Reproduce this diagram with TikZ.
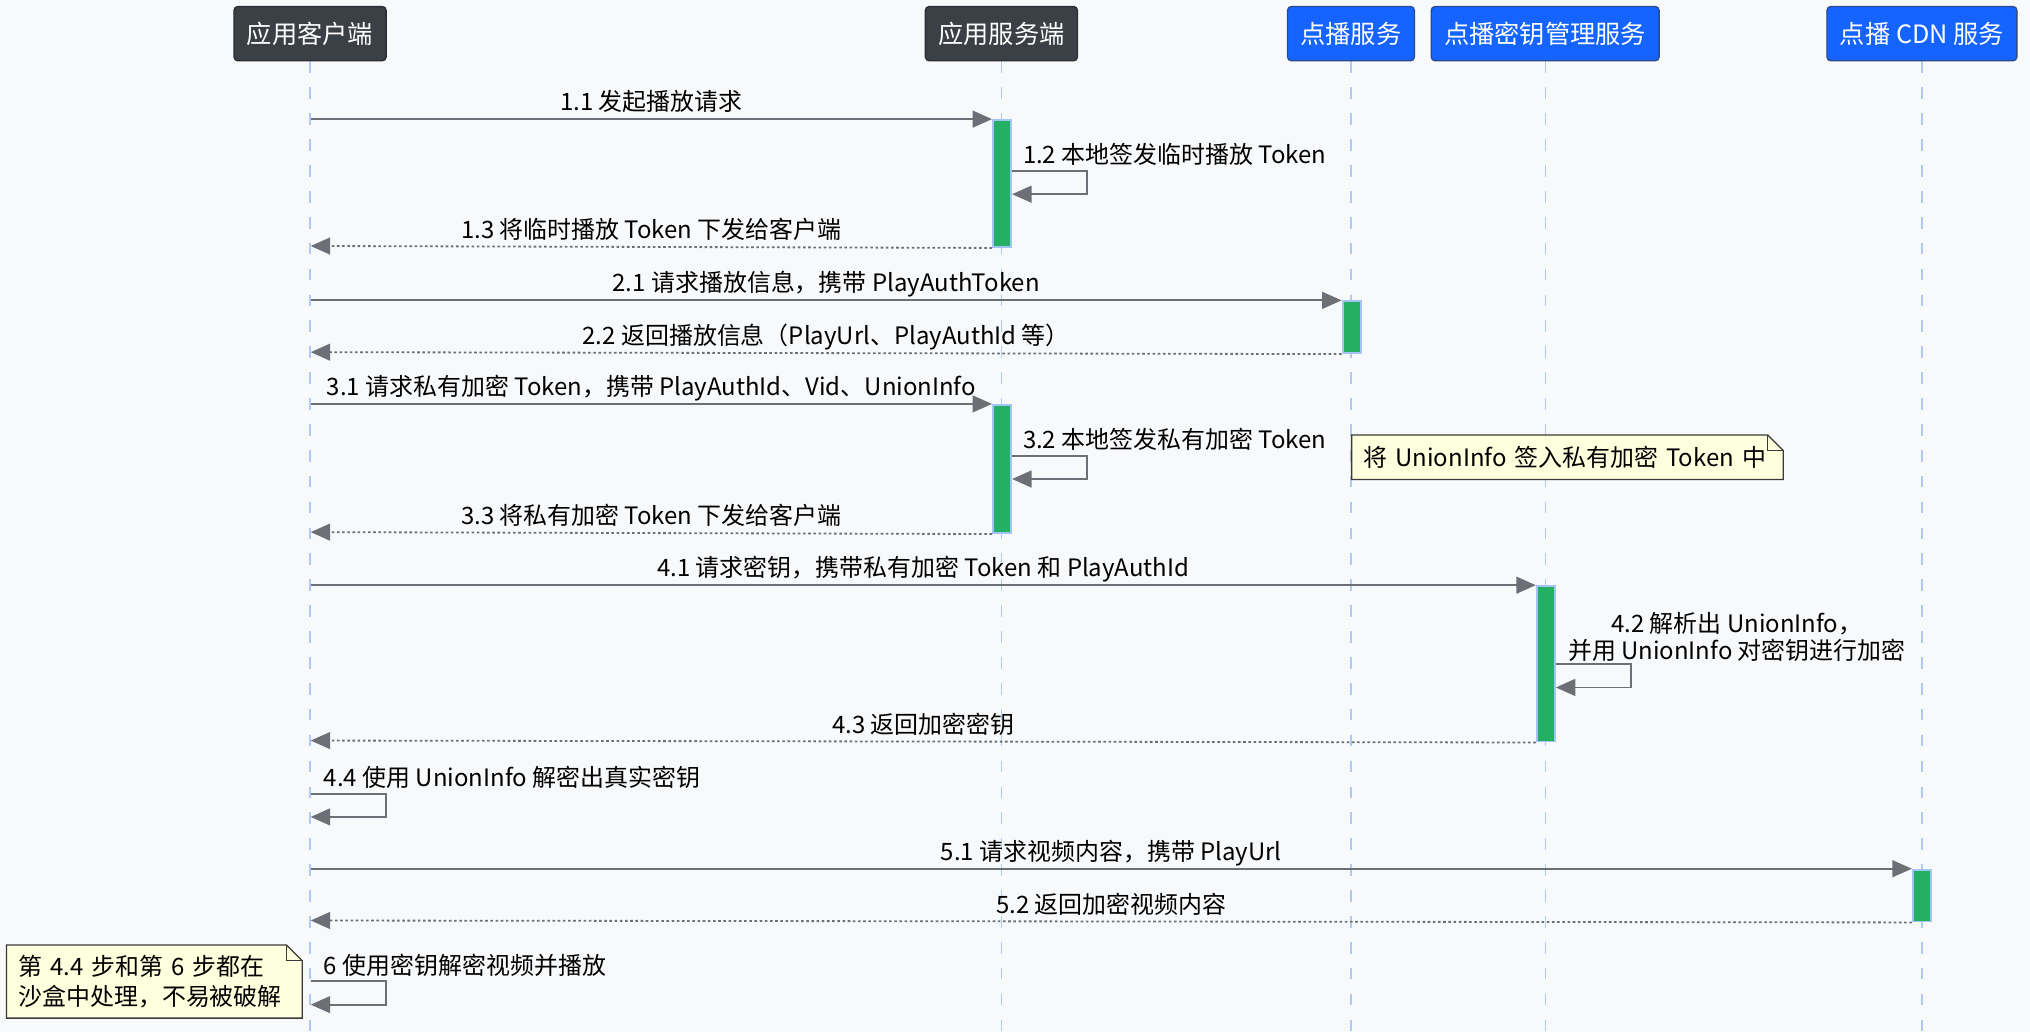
\documentclass[tikz,border=0pt]{standalone}
\usepackage{fontspec}
\setmainfont{Noto Sans CJK SC}
\usetikzlibrary{arrows.meta}
\pgfdeclarelayer{bg}
\pgfdeclarelayer{mid}
\pgfsetlayers{bg,mid,main}
\definecolor{bgc}{HTML}{F8F9FB}
\definecolor{hdrdark}{HTML}{3B3F46}
\definecolor{hdrdarkb}{HTML}{2A2D33}
\definecolor{hdrblue}{HTML}{1664FF}
\definecolor{hdrblueb}{HTML}{2A4A8C}
\definecolor{lifec}{HTML}{AFCBF3}
\definecolor{arrc}{HTML}{6C6F76}
\definecolor{actg}{HTML}{23B065}
\definecolor{actb}{HTML}{A4C4F4}
\definecolor{notef}{HTML}{FEFFDD}
\definecolor{noteb}{HTML}{3A3A3A}
\begin{document}
\begin{tikzpicture}[x=1pt,y=-1pt,
 hdr/.style={rounded corners=3pt, minimum height=42pt, inner xsep=10pt, inner ysep=0pt, text=white, font=\fontsize{19.5}{23}\selectfont, line width=1pt},
 dark/.style={hdr, fill=hdrdark, draw=hdrdarkb},
 blue/.style={hdr, fill=hdrblue, draw=hdrblueb},
 life/.style={draw=lifec, line width=1pt, dash pattern=on 9pt off 11pt},
 act/.style={fill=actg, draw=actb, line width=1.5pt, minimum width=14pt, inner sep=0pt, anchor=north},
 msg/.style={draw=arrc, line width=1.4pt, -{Triangle[length=15pt,width=13pt]}},
 ret/.style={msg, dash pattern=on 2pt off 2pt},
 lbl/.style={font=\fontsize{18.5}{21}\selectfont, inner sep=0pt, text=black},
 notetxt/.style={font=\fontsize{18.5}{23}\selectfont, align=left, inner xsep=9pt, inner ysep=0pt, anchor=north west},
 notebox/.style={fill=notef, draw=noteb, line width=1pt}]
\useasboundingbox (0,0) rectangle (1568,797);
\begin{pgfonlayer}{bg}
\fill[bgc] (0,0) rectangle (1568,797);
\end{pgfonlayer}

% headers
\node[dark] (cl) at (239.5,26) {应用客户端};
\node[dark] (sv) at (773.5,26) {应用服务端};
\node[blue] (vo) at (1043.5,26) {点播服务};
\node[blue] (km) at (1193.5,26) {点播密钥管理服务};
\node[blue] (cd) at (1484.5,26) {点播 CDN 服务};

% lifelines
\coordinate (clend) at (239.5,797);
\coordinate (svend) at (773.5,797);
\coordinate (voend) at (1043.5,797);
\coordinate (kmend) at (1193.5,797);
\coordinate (cdend) at (1484.5,797);
\begin{pgfonlayer}{bg}
\draw[life] (cl.south) -- (clend);
\draw[life] (sv.south) -- (svend);
\draw[life] (vo.south) -- (voend);
\draw[life] (km.south) -- (kmend);
\draw[life] (cd.south) -- (cdend);
\end{pgfonlayer}

% activations
\node[act, minimum height=98pt] (sa1) at (774,92) {};
\node[act, minimum height=40pt] (vo1) at (1044,232) {};
\node[act, minimum height=99pt] (sa2) at (774,312) {};
\node[act, minimum height=120pt] (km1) at (1194,452) {};
\node[act, minimum height=40pt] (cd1) at (1484.5,671) {};

% client-side coordinates
\coordinate (c11) at (240,92);
\coordinate (c13) at (240,190);
\coordinate (c21) at (240,232);
\coordinate (c22) at (240,272);
\coordinate (c31) at (240,312);
\coordinate (c33) at (240,411);
\coordinate (c41) at (240,452);
\coordinate (c43) at (240,572);
\coordinate (c44a) at (240,613);
\coordinate (c44b) at (240,631);
\coordinate (c51) at (240,671);
\coordinate (c52) at (240,711);
\coordinate (c6a) at (240,758);
\coordinate (c6b) at (240,776);

% 1.x
\draw[msg] (c11) -- (sa1.north west) node[lbl, midway, anchor=base, yshift=6.5pt] {1.1 发起播放请求};
\draw[msg] (sa1.east |- 0,132) -- ++(58,0) -- ++(0,18) -- (sa1.east |- 0,150);
\node[lbl, anchor=base west] (l12) at (790,126.5) {1.2 本地签发临时播放 Token};
\draw[ret] (sa1.south west) -- (c13) node[lbl, midway, anchor=base, yshift=6.5pt] {1.3 将临时播放 Token 下发给客户端};

% 2.x
\draw[msg] (c21) -- (vo1.north west) node[lbl, midway, anchor=base, yshift=6.5pt] {2.1 请求播放信息，携带 PlayAuthToken};
\draw[ret] (vo1.south west) -- (c22) node[lbl, midway, anchor=base, yshift=6.5pt] {2.2 返回播放信息（PlayUrl、PlayAuthId 等）};

% 3.x
\draw[msg] (c31) -- (sa2.north west) node[lbl, midway, anchor=base, yshift=6.5pt] {3.1 请求私有加密 Token，携带 PlayAuthId、Vid、UnionInfo};
\draw[msg] (sa2.east |- 0,352) -- ++(58,0) -- ++(0,18) -- (sa2.east |- 0,370);
\node[lbl, anchor=base west] (l32) at (790,346.5) {3.2 本地签发私有加密 Token};
\draw[ret] (sa2.south west) -- (c33) node[lbl, midway, anchor=base, yshift=6.5pt] {3.3 将私有加密 Token 下发给客户端};

% note 1
\node[notetxt, text width=315pt, minimum height=34pt] (n1) at (1044,336) {将 UnionInfo 签入私有加密 Token 中};
\begin{pgfonlayer}{mid}
\draw[notebox] (n1.north west) -- ([xshift=-12pt]n1.north east) -- ([yshift=-12pt]n1.north east) -- (n1.south east) -- (n1.south west) -- cycle;
\draw[draw=noteb, line width=1pt] ([xshift=-12pt]n1.north east) -- ([xshift=-12pt,yshift=-12pt]n1.north east) -- ([yshift=-12pt]n1.north east);
\end{pgfonlayer}

% 4.x
\draw[msg] (c41) -- (km1.north west) node[lbl, midway, anchor=base, yshift=6.5pt] {4.1 请求密钥，携带私有加密 Token 和 PlayAuthId};
\draw[msg] (km1.east |- 0,513) -- ++(58,0) -- ++(0,18) -- (km1.east |- 0,531);
\node[lbl, align=center, anchor=south west, font=\fontsize{18.5}{21}\selectfont] (l42) at (1211,511) {4.2 解析出 UnionInfo，\\并用 UnionInfo 对密钥进行加密};
\draw[ret] (km1.south west) -- (c43) node[lbl, midway, anchor=base, yshift=6.5pt] {4.3 返回加密密钥};
\draw[msg] (c44a) -- (298,613) -- (298,631) -- (c44b);
\node[lbl, anchor=base west] (l44) at (250,607.5) {4.4 使用 UnionInfo 解密出真实密钥};

% 5.x
\draw[msg] (c51) -- (cd1.north west) node[lbl, midway, anchor=base, yshift=6.5pt] {5.1 请求视频内容，携带 PlayUrl};
\draw[ret] (cd1.south west) -- (c52) node[lbl, midway, anchor=base, yshift=6.5pt] {5.2 返回加密视频内容};

% 6
\draw[msg] (c6a) -- (298,758) -- (298,776) -- (c6b);
\node[lbl, anchor=base west] (l6) at (250,752.5) {6 使用密钥解密视频并播放};

% note 2
\node[notetxt, text width=210pt, minimum height=56pt, inner ysep=5pt] (n2) at (5,730) {第 4.4 步和第 6 步都在\\沙盒中处理，不易被破解};
\begin{pgfonlayer}{mid}
\draw[notebox] (n2.north west) -- ([xshift=-12pt]n2.north east) -- ([yshift=-12pt]n2.north east) -- (n2.south east) -- (n2.south west) -- cycle;
\draw[draw=noteb, line width=1pt] ([xshift=-12pt]n2.north east) -- ([xshift=-12pt,yshift=-12pt]n2.north east) -- ([yshift=-12pt]n2.north east);
\end{pgfonlayer}
\end{tikzpicture}
\end{document}
